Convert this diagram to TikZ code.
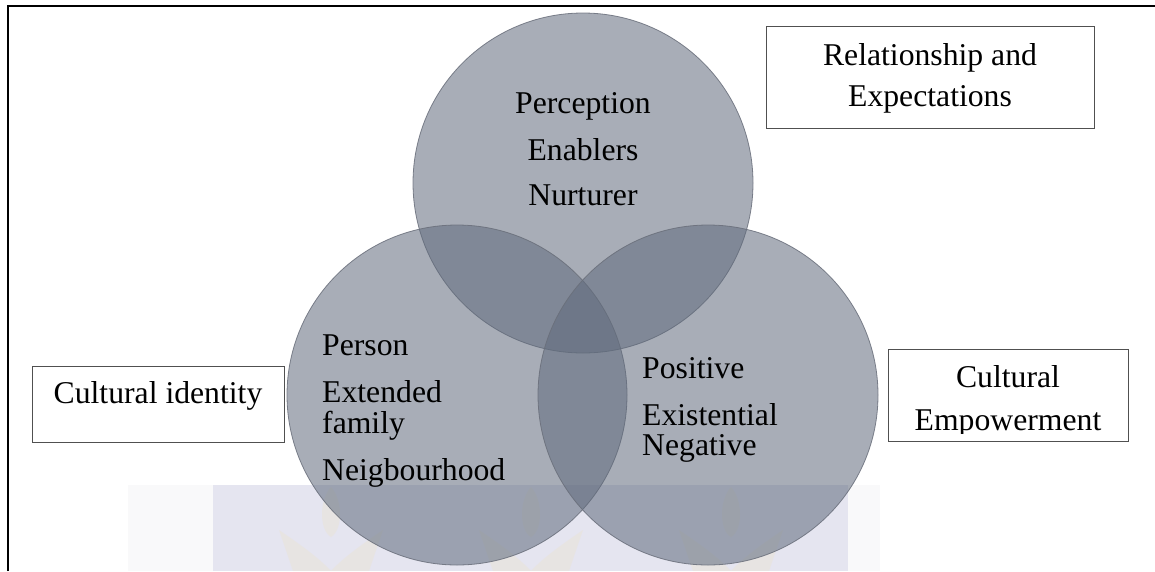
\documentclass[tikz,border=0pt]{standalone}
\usepackage{fontspec}
\setmainfont{Liberation Serif}
\definecolor{vennfill}{RGB}{96,106,124}
\definecolor{vennedge}{RGB}{105,110,122}
\definecolor{boxedge}{RGB}{80,80,80}
\definecolor{wmlav}{RGB}{229,229,240}
\definecolor{wmwhite}{RGB}{249,249,250}
\definecolor{wmgold}{RGB}{240,228,180}
\tikzset{
  venn/.style={circle, minimum size=340pt, inner sep=0pt, fill=vennfill,
    fill opacity=0.55, draw=vennedge, draw opacity=0.85, line width=0.8pt},
  lbl/.style={font=\fontsize{31.7}{38}\selectfont, inner sep=0pt, text=black},
  framebox/.style={draw=boxedge, line width=1pt, inner sep=0pt},
  wmshape/.style={fill=wmgold, fill opacity=0.22}
}
\begin{document}
\begin{tikzpicture}[x=1pt,y=-1pt]
\path[use as bounding box] (0,0) rectangle (1155,571);

% faint watermark band along the bottom
\fill[wmwhite] (128,485) rectangle (213,571);
\fill[wmlav] (213,485) rectangle (848,571);
\fill[wmwhite] (848,485) rectangle (880,571);
\foreach \cx in {331,531,731}{
  \fill[wmshape] (\cx,487) .. controls (\cx+12,500) and (\cx+12,530) .. (\cx,537)
                 .. controls (\cx-12,530) and (\cx-12,500) .. (\cx,487) -- cycle;
  \fill[wmshape] (\cx-52,530) .. controls (\cx-30,545) and (\cx-12,558) .. (\cx,571)
                 .. controls (\cx+12,558) and (\cx+30,545) .. (\cx+52,530)
                 -- (\cx+38,571) -- (\cx-38,571) -- cycle;
}

% outer frame (top and left edges)
\draw[line width=2pt] (7.5,571) -- (7.5,6) -- (1155,6);

% the three overlapping circles
\node[venn] (ctop)   at (583,183) {};
\node[venn] (cleft)  at (457,395) {};
\node[venn] (cright) at (708,395) {};

% circle contents
\node[lbl, anchor=base] (perc) at (583,113) {Perception};
\node[lbl, anchor=base] (enab) at (583,160) {Enablers};
\node[lbl, anchor=base] (nurt) at (583,205) {Nurturer};

\node[lbl, anchor=base west] (pers) at (322,355) {Person};
\node[lbl, anchor=base west] (ext)  at (322,402) {Extended};
\node[lbl, anchor=base west] (fam)  at (322,433) {family};
\node[lbl, anchor=base west] (neig) at (322,480) {Neigbourhood};

\node[lbl, anchor=base west] (posi) at (642,378) {Positive};
\node[lbl, anchor=base west] (exis) at (642,425) {Existential};
\node[lbl, anchor=base west] (nega) at (642,455) {Negative};

% category boxes
\node[framebox, minimum width=328pt, minimum height=102pt] (relbox) at (930,77) {};
\node[lbl, anchor=base] (rel1) at (930,65) {Relationship and};
\node[lbl, anchor=base] (rel2) at (930,106) {Expectations};

\node[framebox, minimum width=252pt, minimum height=76pt] (idbox) at (158,404) {};
\node[lbl, anchor=base] (idtxt) at (158,403) {Cultural identity};

\begin{scope}
  \clip (888,349) rectangle (1128,433);
  \node[lbl, anchor=base] (emp1) at (1008,387) {Cultural};
  \node[lbl, anchor=base] (emp2) at (1008,430) {Empowerment};
\end{scope}
\node[framebox, minimum width=240pt, minimum height=92pt] (empbox) at (1008,395) {};
\end{tikzpicture}
\end{document}
